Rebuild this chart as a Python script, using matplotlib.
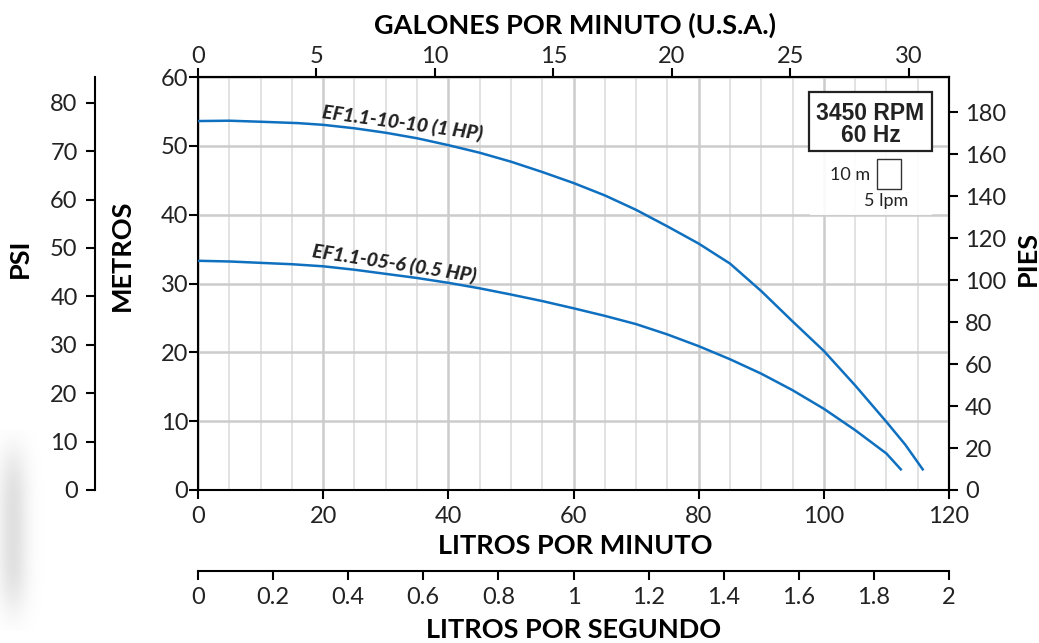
import numpy as np
import matplotlib
matplotlib.use('Agg')
import matplotlib.pyplot as plt
from matplotlib.patches import Rectangle

# curva EF1.1-10-10 (1 HP): caudal en l/min, carga en metros
lpm_1hp = [0, 5, 10, 16, 20, 25, 30, 35, 40, 45, 50, 55, 60, 65, 70, 75, 80, 85,
           90, 95, 100, 105, 110, 113, 115.8]
m_1hp = [53.6, 53.65, 53.5, 53.3, 53.05, 52.55, 51.9, 51.1, 50.1, 49.0, 47.7, 46.2, 44.6, 42.8,
         40.7, 38.3, 35.8, 32.9, 28.9, 24.5, 20.2, 15.2, 9.9, 6.6, 3.0]

# curva EF1.1-05-6 (0.5 HP)
lpm_05hp = [0, 5, 10, 15, 20, 25, 30, 35, 40, 45, 50, 55, 60, 65, 70, 75, 80, 85, 90,
            95, 100, 105, 110, 112.3]
m_05hp = [33.3, 33.2, 33.0, 32.8, 32.5, 32.0, 31.4, 30.8, 30.1, 29.3, 28.4, 27.45, 26.4, 25.3,
          24.1, 22.6, 20.9, 19.0, 16.9, 14.5, 11.8, 8.7, 5.3, 3.0]

lpm_ticks = [0, 20, 40, 60, 80, 100, 120]
gpm_ticks = [0, 5, 10, 15, 20, 25, 30]
lps_ticks = [0, 0.2, 0.4, 0.6, 0.8, 1.0, 1.2, 1.4, 1.6, 1.8, 2.0]
lps_labels = ['0', '0.2', '0.4', '0.6', '0.8', '1', '1.2', '1.4', '1.6', '1.8', '2']
m_ticks = [0, 10, 20, 30, 40, 50, 60]
ft_ticks = [0, 20, 40, 60, 80, 100, 120, 140, 160, 180]
psi_ticks = [0, 10, 20, 30, 40, 50, 60, 70, 80]

W, H = 1039, 643
plt.rcParams['font.family'] = ['Lato', 'DejaVu Sans']
BLUE = '#0f70c0'
TXT = '#222222'


def fx(px):
    return px / W


def fy(py):
    return 1 - py / H


fig = plt.figure(figsize=(W / 100, H / 100), dpi=100)
ax = fig.add_axes([fx(198), fy(490), 751 / W, 413 / H])
ax.set_xlim(0, 120)
ax.set_ylim(0, 60)

ax.plot(lpm_1hp, m_1hp, color=BLUE, lw=1.8, zorder=3)
ax.plot(lpm_05hp, m_05hp, color=BLUE, lw=1.8, zorder=3)

ax.text(19.8, 54.0, 'EF1.1-10-10 (1 HP)', rotation=-7.8, rotation_mode='anchor',
        ha='left', va='baseline', fontsize=14, fontweight=900, fontstyle='italic', color=TXT)
ax.text(18.2, 33.9, 'EF1.1-05-6 (0.5 HP)', rotation=-8.7, rotation_mode='anchor',
        ha='left', va='baseline', fontsize=14, fontweight=900, fontstyle='italic', color=TXT)

# rejilla
ax.set_xticks(lpm_ticks)
ax.set_xticks(np.arange(0, 121, 5), minor=True)
ax.set_yticks(m_ticks)
ax.grid(which='major', color='#cccccc', lw=1.8, zorder=0)
ax.grid(which='minor', axis='x', color='#dadada', lw=1.1, zorder=0)
ax.set_axisbelow(True)

for s in ax.spines.values():
    s.set_linewidth(1.5)
    s.set_color('black')

tick_kw = dict(direction='out', length=6.5, width=1.5, colors='black', labelcolor=TXT, labelsize=17)
ax.tick_params(axis='x', which='major', pad=5, **tick_kw)
ax.tick_params(axis='y', which='major', pad=0.5, **tick_kw)
ax.tick_params(which='minor', length=0)

# galones por minuto (arriba)
top = ax.secondary_xaxis('top', functions=(lambda x: x / 3.78541, lambda g: g * 3.78541))
top.set_xticks(gpm_ticks)
top.tick_params(pad=1, **tick_kw)
top.spines['top'].set_linewidth(1.5)

# pies (derecha)
right = ax.secondary_yaxis('right', functions=(lambda m: m * 3.28084, lambda f: f / 3.28084))
right.set_yticks(ft_ticks)
right.tick_params(pad=5, **tick_kw)
right.spines['right'].set_linewidth(1.5)

# psi (eje separado a la izquierda)
psi = ax.secondary_yaxis(-103 / 751, functions=(lambda m: m * 1.42197, lambda p: p / 1.42197))
psi.set_yticks(psi_ticks)
psi.tick_params(pad=6, **tick_kw)
psi.spines['left'].set_linewidth(1.5)

# litros por segundo (eje separado abajo)
lps = ax.secondary_xaxis(-81 / 413, functions=(lambda x: x / 60.0, lambda s: s * 60.0))
lps.set_xticks(lps_ticks)
lps.set_xticklabels(lps_labels)
lps.tick_params(pad=5, **tick_kw)
lps.spines['bottom'].set_linewidth(1.5)

lab_kw = dict(fontsize=19.5, fontweight='bold', color='black', ha='center', va='center')
fig.text(fx(575), fy(25), 'GALONES POR MINUTO (U.S.A.)', **lab_kw)
fig.text(fx(575), fy(546), 'LITROS POR MINUTO', **lab_kw)
fig.text(fx(574), fy(630), 'LITROS POR SEGUNDO', **lab_kw)
fig.text(fx(20), fy(258), 'PSI', rotation=90, **lab_kw)
fig.text(fx(122), fy(255), 'METROS', rotation=90, **lab_kw)
fig.text(fx(1028), fy(258), 'PIES', rotation=90, **lab_kw)

# recuadro de velocidad y escala
fig.patches.append(Rectangle((fx(810), fy(215)), 122 / W, 123 / H, transform=fig.transFigure,
                             facecolor='white', edgecolor='none', alpha=0.9, zorder=2))
fig.patches.append(Rectangle((fx(809), fy(151)), 123 / W, 59 / H, transform=fig.transFigure,
                             facecolor='white', edgecolor='#222222', lw=1.6, zorder=3))
box_kw = dict(family=['Liberation Sans', 'DejaVu Sans'], fontsize=16.5, fontweight='bold',
              color=TXT, ha='center', va='baseline', zorder=4)
fig.text(fx(870.5), fy(119.5), '3450 RPM', **box_kw)
fig.text(fx(870.5), fy(141.5), '60 Hz', **box_kw)
fig.patches.append(Rectangle((fx(877), fy(189)), 24 / W, 30 / H, transform=fig.transFigure,
                             facecolor='white', edgecolor='#333333', lw=1.0, zorder=3))
fig.text(fx(870), fy(175), '10 m', fontsize=13, color=TXT, ha='right', va='center', zorder=4)
fig.text(fx(886), fy(201), '5 lpm', fontsize=13, color=TXT, ha='center', va='center', zorder=4)

# sombra gris difusa en el borde izquierdo
sh = fig.add_axes([0, fy(630), 50 / W, 200 / H])
gx, gy = np.meshgrid(np.linspace(0, 50, 100), np.linspace(0, 200, 200))
dens = np.exp(-((gx - 13) / 15) ** 2) * np.exp(-((gy - 100) / 80) ** 4)
img = np.zeros(gx.shape + (4,))
img[..., :3] = 0.6
img[..., 3] = 0.3 * dens
sh.imshow(img, extent=(0, 50, 0, 200), aspect='auto')
sh.set_axis_off()

fig.savefig('out.png', dpi=100)
